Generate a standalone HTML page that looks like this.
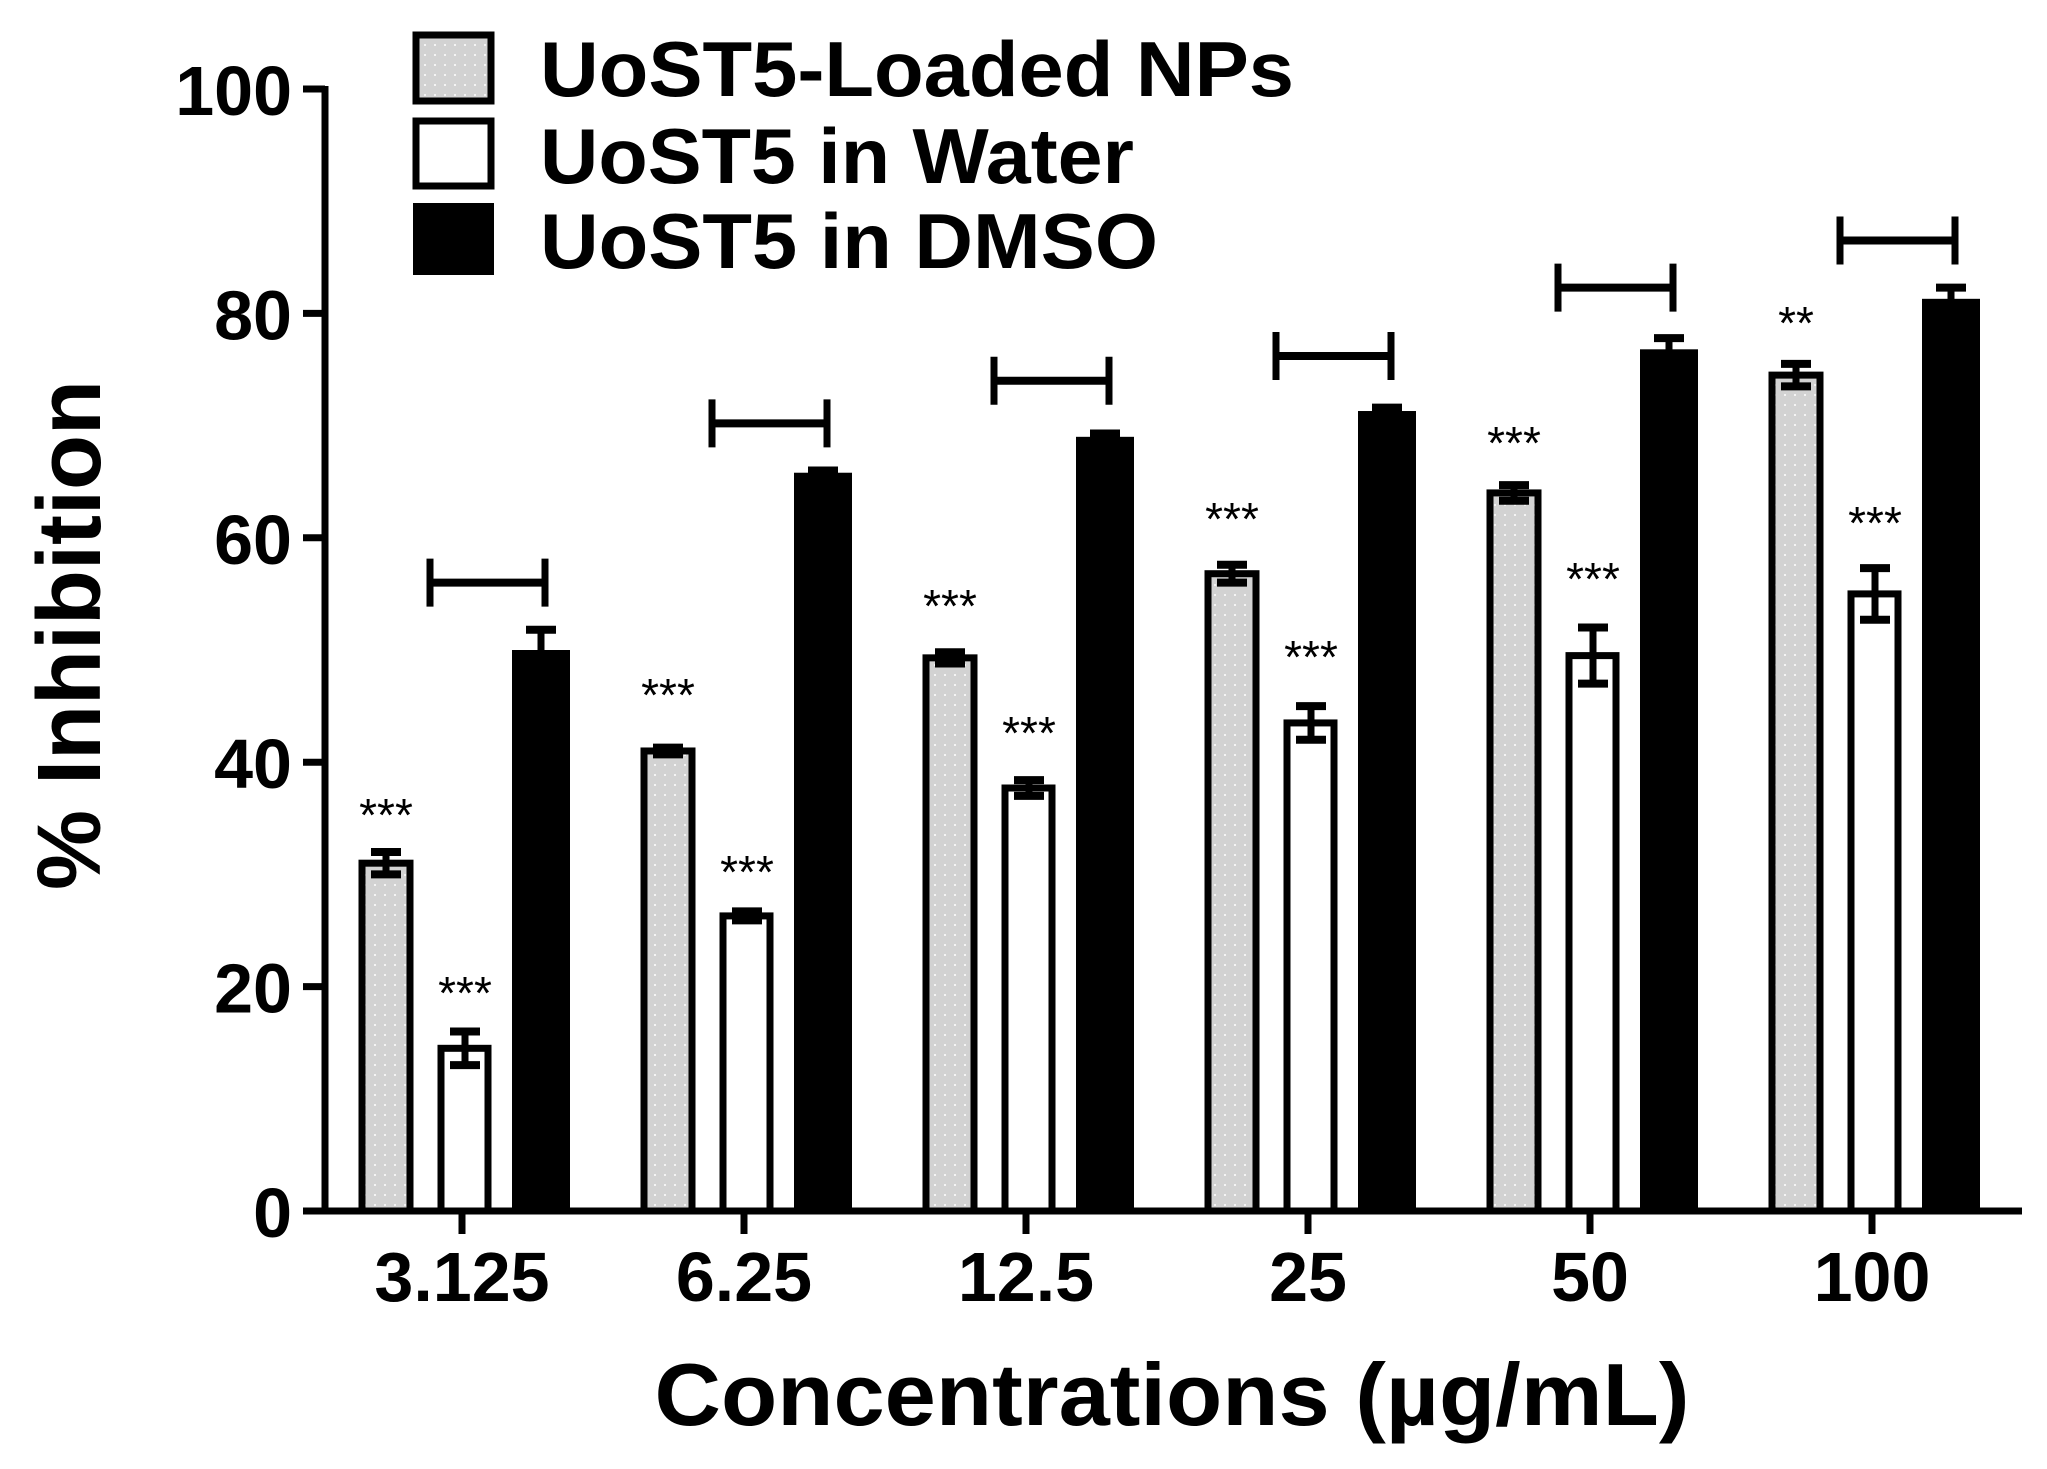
<!DOCTYPE html>
<html><head><meta charset="utf-8"><style>
html,body{margin:0;padding:0;background:#fff}
svg{display:block}
text{font-family:"Liberation Sans",Arial,sans-serif;font-weight:bold;fill:#000}
</style></head><body>
<svg id="s" xmlns="http://www.w3.org/2000/svg" width="2047" height="1469" viewBox="0 0 2047 1469">
<defs>
<pattern id="dots" width="10" height="10" patternUnits="userSpaceOnUse">
<rect width="10" height="10" fill="#d2d2d2"/><rect x="4" y="4" width="2" height="2" fill="#f4f4f4"/>
</pattern>
</defs>
<g id="g"></g>
<rect x="416" y="35" width="75" height="66" fill="url(#dots)" stroke="#000" stroke-width="7"/>
<rect x="416" y="121" width="75" height="65" fill="#fff" stroke="#000" stroke-width="7"/>
<rect x="413" y="203" width="81" height="72" fill="#000"/>
<text x="540" y="96" font-size="78" textLength="754" lengthAdjust="spacingAndGlyphs">UoST5-Loaded NPs</text>
<text x="540" y="183" font-size="78" textLength="594" lengthAdjust="spacingAndGlyphs">UoST5 in Water</text>
<text x="540" y="268" font-size="78" textLength="618" lengthAdjust="spacingAndGlyphs">UoST5 in DMSO</text>
<text x="1172" y="1425" font-size="88" text-anchor="middle" textLength="1035" lengthAdjust="spacingAndGlyphs">Concentrations (µg/mL)</text>
<text transform="translate(100,635) rotate(-90)" font-size="90" text-anchor="middle" textLength="510" lengthAdjust="spacingAndGlyphs">% Inhibition</text>
</svg>
<script>
var g=document.getElementById('g'),h='';
function Y(v){return 1211-11.22*v;}
var ticks=[462,744,1026,1308,1590,1872];
var labels=['3.125','6.25','12.5','25','50','100'];
var gray=[31,41,49.3,56.8,64,74.5],gsd=[1,0.3,0.5,0.8,0.7,1];
var white=[14.5,26.3,37.7,43.5,49.5,55],wsd=[1.5,0.4,0.7,1.5,2.5,2.3];
var black=[50,65.8,69,71.3,76.8,81.3],bsd=[1.8,0.2,0.3,0.3,1,1];
var br=[56,70.2,74,76.2,82.3,86.5];
var gs=[815,695,606,519,443,323],ws=[993,872,733,657,579,523];
function eb(cx,v,sd){var t=Y(v+sd),b=Y(v-sd);
 return '<line x1="'+cx+'" x2="'+cx+'" y1="'+t+'" y2="'+b+'" stroke="#000" stroke-width="7"/>'+
 '<line x1="'+(cx-15)+'" x2="'+(cx+15)+'" y1="'+t+'" y2="'+t+'" stroke="#000" stroke-width="8"/>'+
 '<line x1="'+(cx-15)+'" x2="'+(cx+15)+'" y1="'+b+'" y2="'+b+'" stroke="#000" stroke-width="8"/>';}
for(var i=0;i<6;i++){var t=ticks[i];
 var gy=Y(gray[i]);h+='<rect x="'+(t-100)+'" y="'+gy+'" width="48" height="'+(1211-gy)+'" fill="url(#dots)" stroke="#000" stroke-width="7"/>';
 h+=eb(t-76,gray[i],gsd[i]);
 var wy=Y(white[i]);h+='<rect x="'+(t-21)+'" y="'+wy+'" width="47" height="'+(1211-wy)+'" fill="#fff" stroke="#000" stroke-width="7"/>';
 h+=eb(t+3,white[i],wsd[i]);
 var by=Y(black[i]);h+='<rect x="'+(t+50)+'" y="'+by+'" width="58" height="'+(1211-by)+'" fill="#000"/>';
 h+=eb(t+79,black[i],bsd[i]);
 var yy=Y(br[i]),x1=t-32,x2=t+83;
 h+='<line x1="'+x1+'" x2="'+x2+'" y1="'+yy+'" y2="'+yy+'" stroke="#000" stroke-width="8"/>';
 h+='<line x1="'+x1+'" x2="'+x1+'" y1="'+(yy-24)+'" y2="'+(yy+24)+'" stroke="#000" stroke-width="7"/>';
 h+='<line x1="'+x2+'" x2="'+x2+'" y1="'+(yy-24)+'" y2="'+(yy+24)+'" stroke="#000" stroke-width="7"/>';
 h+='<text x="'+(t-76)+'" y="'+(gs[i]+16)+'" font-size="46" fill="#222" text-anchor="middle" style="font-weight:normal">'+(i==5?'**':'***')+'</text>';
 h+='<text x="'+(t+3)+'" y="'+(ws[i]+16)+'" font-size="46" fill="#222" text-anchor="middle" style="font-weight:normal">***</text>';
 h+='<line x1="'+t+'" x2="'+t+'" y1="1211" y2="1234" stroke="#000" stroke-width="7"/>';
 h+='<text x="'+t+'" y="1301" font-size="70" text-anchor="middle">'+labels[i]+'</text>';
}
h+='<line x1="325" x2="325" y1="86" y2="1214" stroke="#000" stroke-width="7"/>';
h+='<line x1="322" x2="2022" y1="1211" y2="1211" stroke="#000" stroke-width="7"/>';
for(var v=0;v<=100;v+=20){var yy=Y(v);
 h+='<line x1="303" x2="325" y1="'+yy+'" y2="'+yy+'" stroke="#000" stroke-width="7"/>';
 h+='<text x="292" y="'+(yy+26)+'" font-size="70" text-anchor="end">'+v+'</text>';}
g.innerHTML=h;
</script>
</body></html>
